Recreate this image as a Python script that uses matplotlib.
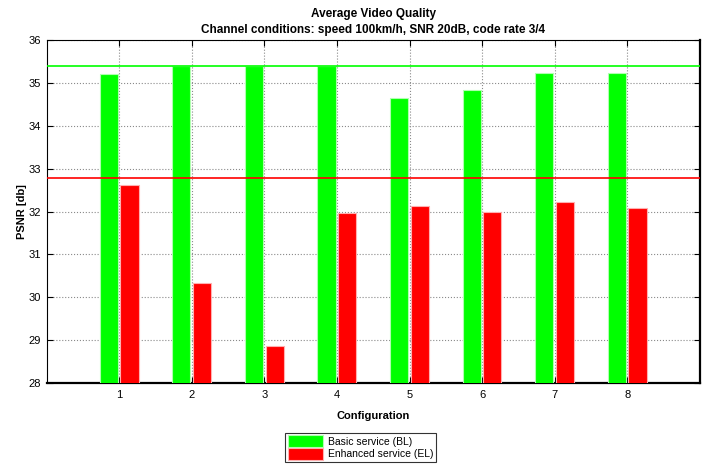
import matplotlib
matplotlib.use("Agg")
import matplotlib.pyplot as plt
import numpy as np

configs = [1, 2, 3, 4, 5, 6, 7, 8]
basic_bl = [35.20, 35.40, 35.40, 35.40, 34.64, 34.83, 35.22, 35.22]
enhanced_el = [32.62, 30.33, 28.86, 31.96, 32.12, 31.99, 32.23, 32.07]
bl_ref = 35.40
el_ref = 32.78
yticks = [28, 29, 30, 31, 32, 33, 34, 35, 36]

plt.rcParams['font.family'] = ['Liberation Sans', 'DejaVu Sans']

fig = plt.figure(figsize=(7.07, 4.65), dpi=100)
ax = fig.add_axes([46.7/707, 1-383/465, (700-46.7)/707, (383-40)/465])

x = np.array(configs, dtype=float)
w = 0.25
ax.bar(x - 0.145, basic_bl, width=w, bottom=0, color='#00ff00', edgecolor='#b0ffb0',
       linewidth=0.8, label='Basic service (BL)', zorder=3)
ax.bar(x + 0.14, enhanced_el, width=w, bottom=0, color='#ff0000', edgecolor='#ffb0b0',
       linewidth=0.8, label='Enhanced service (EL)', zorder=3)
ax.axhline(bl_ref, color='#00ff00', linewidth=1.2, zorder=4)
ax.axhline(el_ref, color='#ff0000', linewidth=1.2, zorder=4)

ax.set_xlim(0, 9)
ax.set_ylim(28, 36)
ax.set_xticks(configs)
ax.set_yticks(yticks)
ax.grid(True, color='#8a8a8a', linestyle=':', linewidth=0.8, zorder=1)
ax.tick_params(direction='in', length=4, labelsize=8, top=True, right=True)
ax.tick_params(axis='x', pad=5)
ax.tick_params(axis='y', pad=4)
for side in ['left', 'top']:
    ax.spines[side].set_linewidth(0.8)
for side in ['bottom', 'right']:
    ax.spines[side].set_linewidth(1.6)

ax.set_xlabel('Configuration', fontsize=8, fontweight='bold', labelpad=8)
ax.set_ylabel('PSNR [db]', fontsize=8, fontweight='bold', labelpad=1)
ax.set_title('Average Video Quality\nChannel conditions: speed 100km/h, SNR 20dB, code rate 3/4',
             fontsize=8.5, fontweight='bold', pad=5, linespacing=1.45)

leg = fig.legend(loc='center', bbox_to_anchor=(360.5/707, 1-447.5/465), fontsize=7.5,
                 frameon=True, fancybox=False, edgecolor='black', handlelength=3.4,
                 handleheight=1.3, labelspacing=0.15, borderpad=0.25, handletextpad=0.4,
                 borderaxespad=0)
leg.get_frame().set_linewidth(0.8)

fig.savefig('out.png', dpi=100)
